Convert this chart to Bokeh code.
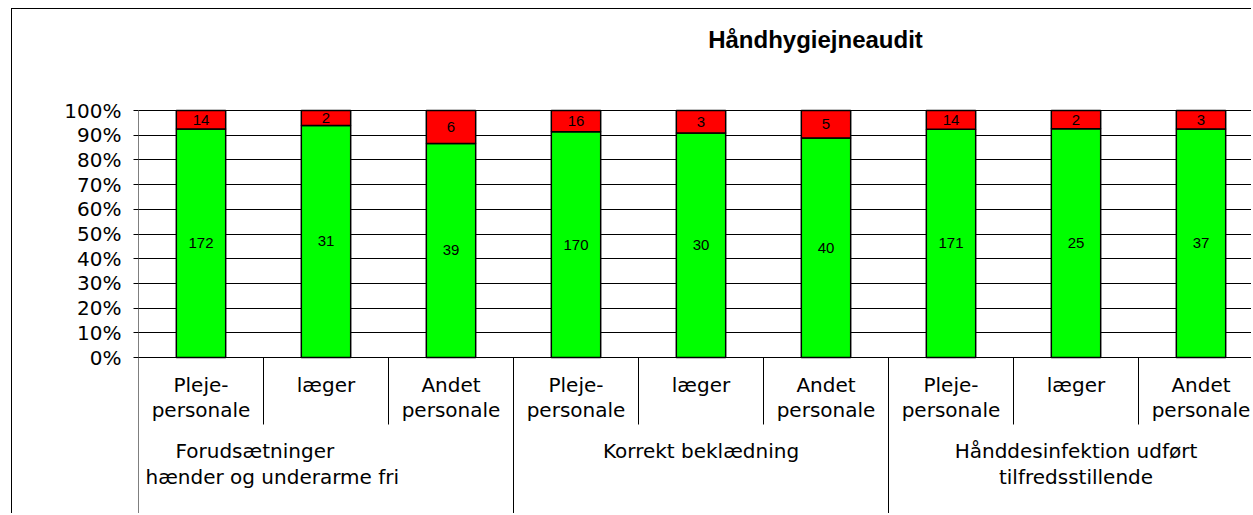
from bokeh.plotting import figure
from bokeh.models import Range1d, FixedTicker, NumeralTickFormatter, ColumnDataSource
from bokeh.core.properties import value
from bokeh.embed import file_html
from bokeh.resources import INLINE

# ---------------- data ----------------
title_text = "Håndhygiejneaudit"
group_lines = [
    ["Forudsætninger", "hænder og underarme fri"],
    ["Korrekt beklædning"],
    ["Hånddesinfektion udført", "tilfredsstillende"],
]
sub_line1 = ["Pleje-", "læger", "Andet"]
sub_line2 = ["personale", "", "personale"]
ok_counts = [172, 31, 39, 170, 30, 40, 171, 25, 37]
not_ok_counts = [14, 2, 6, 16, 3, 5, 14, 2, 3]
y_ticks = [0.0, 0.1, 0.2, 0.3, 0.4, 0.5, 0.6, 0.7, 0.8, 0.9, 1.0]

# ---------------- layout constants ----------------
W, H = 1240, 505
ORIGIN_X = 12         # canvas origin on screen (margin + 1px border)
ORIGIN_Y = 9
AXIS_X = 138          # screen x of y-axis
ZERO_Y = 357          # screen y of 0%
PX_X = 125            # px per category
PX_Y = 247            # px per 100%

def ys(y):
    return (ZERO_Y - y) / PX_Y

def xs(x):
    return (x - AXIS_X) / PX_X

n = len(ok_counts)
per_group = len(sub_line1)
centers = [i + 0.5 for i in range(n)]
totals = [a + b for a, b in zip(ok_counts, not_ok_counts)]
green = [a / t for a, t in zip(ok_counts, totals)]

p = figure(width=W, height=H, output_backend="svg", toolbar_location=None,
           title=None, x_axis_type=None,
           x_range=Range1d(0, (W - (AXIS_X - ORIGIN_X)) / PX_X),
           y_range=Range1d(ys(ORIGIN_Y + H), ys(ORIGIN_Y)),
           min_border_left=AXIS_X - ORIGIN_X, min_border_right=0,
           min_border_top=0, min_border_bottom=0)
p.styles = {"margin-left": "11px", "margin-top": "8px",
            "border-left": "1px solid #000000", "border-top": "1px solid #000000"}
p.outline_line_color = None
p.background_fill_color = "white"
p.border_fill_color = "white"

# y axis
ax = p.yaxis[0]
ax.ticker = FixedTicker(ticks=y_ticks)
ax.formatter = NumeralTickFormatter(format="0%")
ax.axis_line_color = None
ax.major_tick_in = 0
ax.major_tick_out = 5
ax.major_tick_line_color = "black"
ax.minor_tick_line_color = None
ax.major_label_standoff = 12
ax.major_label_text_font = "DejaVu Sans"
ax.major_label_text_font_size = "20px"
ax.major_label_text_color = "#000000"

p.ygrid.ticker = FixedTicker(ticks=y_ticks)
p.ygrid.grid_line_color = "black"
p.ygrid.grid_line_width = 1
p.xgrid.visible = False

# bars
src = ColumnDataSource(dict(x=centers, g=green,
                            gm=[v / 2 for v in green],
                            rm=[(v + 1) / 2 for v in green],
                            one=[1.0] * n,
                            ok=[str(v) for v in ok_counts],
                            nok=[str(v) for v in not_ok_counts]))
p.vbar(x="x", width=0.395, bottom=0, top="g", source=src,
       fill_color="#00FF00", line_color="black", line_width=1.5)
p.vbar(x="x", width=0.395, bottom="g", top="one", source=src,
       fill_color="#FF0000", line_color="black", line_width=1.5)
p.text(x="x", y="gm", text="ok", source=src, text_align="center",
       text_baseline="middle", text_font=value("Liberation Sans"),
       text_font_size="15px", text_color="black")
p.text(x="x", y="rm", text="nok", source=src, text_align="center",
       text_baseline="middle", text_font=value("Liberation Sans"),
       text_font_size="15px", text_color="black")

# separators (category axis)
bottom = ys(ORIGIN_Y + H)
p.segment(x0=[0], y0=[bottom], x1=[0], y1=[1.0], line_color="black", line_width=1)
grp_x = [g * per_group for g in range(1, len(group_lines))]
p.segment(x0=grp_x, y0=[bottom] * len(grp_x), x1=grp_x, y1=[0] * len(grp_x),
          line_color="black", line_width=1)
inner_x = [i for i in range(1, n) if i % per_group != 0]
p.segment(x0=inner_x, y0=[0] * len(inner_x), x1=inner_x, y1=[ys(424)] * len(inner_x),
          line_color="black", line_width=1)

# sub-category labels
lab_font = value("DejaVu Sans")
l1 = [sub_line1[i % per_group] for i in range(n)]
l2 = [sub_line2[i % per_group] for i in range(n)]
p.text(x=centers, y=[ys(384)] * n, text=l1, text_align="center",
       text_baseline="alphabetic", text_font=lab_font, text_font_size="20px",
       text_color="black")
p.text(x=centers, y=[ys(409)] * n, text=l2, text_align="center",
       text_baseline="alphabetic", text_font=lab_font, text_font_size="20px",
       text_color="black")

# group labels
line_base = [ys(450), ys(476)]
gx, gy, gt, ga = [], [], [], []
for g, lines in enumerate(group_lines):
    gc = g * per_group + per_group / 2
    for k, t in enumerate(lines):
        if g == 0:
            # first group is left-set in the original (indented first line)
            gx.append(g * per_group + xs(AXIS_X + (37 if k == 0 else 7)))
            ga.append("left")
        else:
            gx.append(gc)
            ga.append("center")
        gy.append(line_base[k])
        gt.append(t)
gsrc = ColumnDataSource(dict(x=gx, y=gy, t=gt, a=ga))
p.text(x="x", y="y", text="t", text_align="a", source=gsrc,
       text_baseline="alphabetic", text_font=lab_font, text_font_size="20px",
       text_color="black")

# title
p.text(x=[xs(815)], y=[ys(39)], text=[title_text], text_align="center",
       text_baseline="middle", text_font=value("Liberation Sans"),
       text_font_style="bold", text_font_size="24px", text_color="black")

open("out.html", "w").write(file_html(p, INLINE))
